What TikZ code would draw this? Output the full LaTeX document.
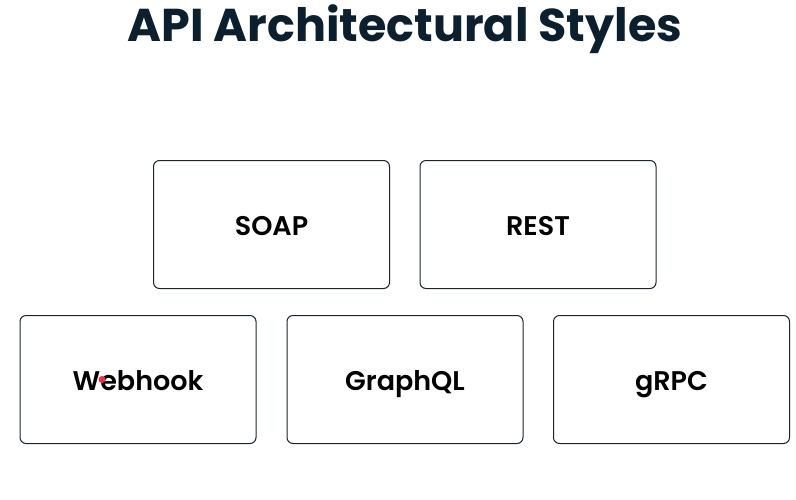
\documentclass[tikz,border=0pt]{standalone}
\usepackage{fontspec}
\setmainfont{Poppins}
\newfontfamily\titlefont{Poppins}[UprightFont={* Bold}]
\newfontfamily\boxfont{Poppins}[UprightFont={* SemiBold}]
\definecolor{titlecol}{HTML}{0B1F2E}
\definecolor{bordercol}{HTML}{1A2530}
\definecolor{dotred}{HTML}{F0304A}
\begin{document}
\begin{tikzpicture}[x=1pt,y=-1pt,
  stylebox/.style={draw=bordercol, line width=1pt, rounded corners=6pt, fill=white,
    minimum width=236pt, minimum height=128pt, inner sep=0pt,
    text height=26pt, text depth=5pt,
    font=\boxfont\fontsize{27}{30}\selectfont, text=black}]
\useasboundingbox[fill=white] (0,0) rectangle (796,499);
\node[font=\titlefont\fontsize{46}{50}\selectfont, text=titlecol] (title) at (405,29) {API Architectural Styles};
\node[stylebox] (soap) at (271.5,224.5) {SOAP};
\node[stylebox] (rest) at (538,224.5) {REST};
\node[stylebox] (webhook) at (138,379.5) {Webhook};
\node[stylebox] (graphql) at (405,379.5) {GraphQL};
\node[stylebox] (grpc) at (671.5,379.5) {gRPC};
\fill[dotred] (102,379.5) circle (3.5pt);
\end{tikzpicture}
\end{document}
